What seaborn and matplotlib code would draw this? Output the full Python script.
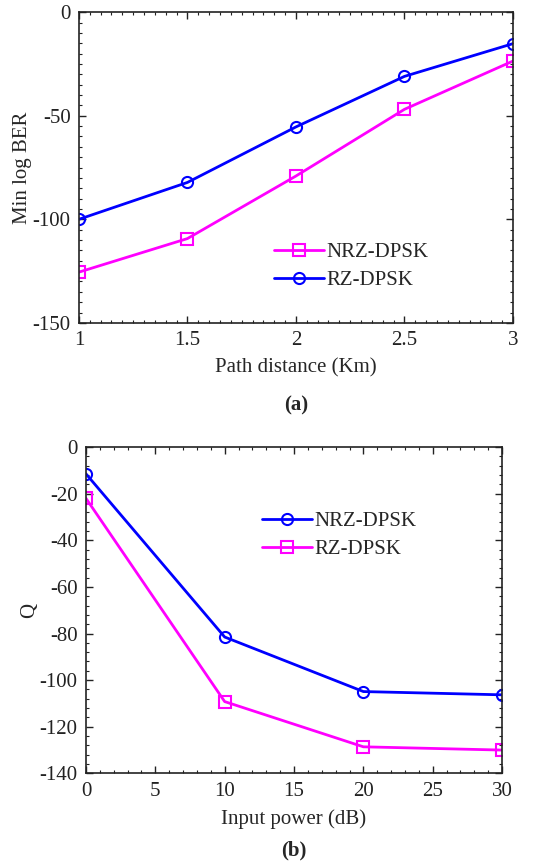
import numpy as np
import pandas as pd
import matplotlib
matplotlib.use("Agg")
import matplotlib.pyplot as plt
import seaborn as sns
from matplotlib.ticker import MultipleLocator

# values
path_km = [1, 1.5, 2, 2.5, 3]
nrz_ber = [-125.5, -109.3, -79.1, -46.9, -23.6]
rz_ber = [-100, -82.2, -55.4, -31, -15.2]

power_db = [0, 10, 20, 30]
nrz_q = [-11.5, -81.5, -104.9, -106.3]
rz_q = [-22, -109.2, -128.6, -130]

sns.set_theme(style="ticks")
plt.rcParams['font.family'] = ['Liberation Serif', 'DejaVu Serif']
plt.rcParams['axes.unicode_minus'] = False

MAGENTA = '#ff00ff'
BLUE = '#0000ff'
FS = 15

fig = plt.figure(figsize=(5.44, 8.68), dpi=100)
ax1 = fig.add_axes([0.145, 0.628, 0.798, 0.358])
ax2 = fig.add_axes([0.158, 0.109, 0.765, 0.376])

# panel (a)
df_a = pd.DataFrame({'x': path_km * 2,
                     'y': nrz_ber + rz_ber,
                     'series': ['NRZ-DPSK'] * 5 + ['RZ-DPSK'] * 5})
sns.lineplot(data=df_a, x='x', y='y', hue='series', style='series',
             palette={'NRZ-DPSK': MAGENTA, 'RZ-DPSK': BLUE},
             markers={'NRZ-DPSK': 's', 'RZ-DPSK': 'o'}, dashes=False,
             markersize=8, linewidth=2, ax=ax1)
ax1.set_xlim(1, 3)
ax1.set_ylim(-150, 0)
ax1.set_xticks([1, 1.5, 2, 2.5, 3])
ax1.set_xticklabels(['1', '1.5', '2', '2.5', '3'])
ax1.set_yticks([-150, -100, -50, 0])
ax1.xaxis.set_minor_locator(MultipleLocator(0.05))
ax1.yaxis.set_minor_locator(MultipleLocator(5))
ax1.set_xlabel('Path distance (Km)', fontsize=FS)
ax1.set_ylabel('Min log BER', fontsize=FS, labelpad=0)

# panel (b)
df_b = pd.DataFrame({'x': power_db * 2,
                     'y': nrz_q + rz_q,
                     'series': ['NRZ-DPSK'] * 4 + ['RZ-DPSK'] * 4})
sns.lineplot(data=df_b, x='x', y='y', hue='series', style='series',
             palette={'NRZ-DPSK': BLUE, 'RZ-DPSK': MAGENTA},
             markers={'NRZ-DPSK': 'o', 'RZ-DPSK': 's'}, dashes=False,
             markersize=8, linewidth=2, ax=ax2)
ax2.set_xlim(0, 30)
ax2.set_ylim(-140, 0)
ax2.set_xticks(range(0, 31, 5))
ax2.set_yticks(range(-140, 1, 20))
ax2.xaxis.set_minor_locator(MultipleLocator(1))
ax2.yaxis.set_minor_locator(MultipleLocator(4))
ax2.set_xlabel('Input power (dB)', fontsize=FS)
ax2.set_ylabel('Q', fontsize=FS, labelpad=0)

legends = [
    ax1.legend(loc='upper left', bbox_to_anchor=(0.43, 0.285), frameon=False,
               fontsize=FS, handlelength=2.4, handletextpad=0.1,
               labelspacing=0.4, borderaxespad=0),
    ax2.legend(loc='upper left', bbox_to_anchor=(0.403, 0.828), frameon=False,
               fontsize=FS, handlelength=2.4, handletextpad=0.1,
               labelspacing=0.4, borderaxespad=0),
]

# hollow markers in the line colour
for ax, leg in zip((ax1, ax2), legends):
    for ln in list(ax.lines) + list(leg.get_lines()):
        ln.set_markerfacecolor('none')
        ln.set_markeredgecolor(ln.get_color())
        ln.set_markeredgewidth(1.5)
    for s in ax.spines.values():
        s.set_visible(True)
        s.set_linewidth(1.2)
        s.set_color('#222222')
    ax.tick_params(which='both', direction='in', top=True, right=True,
                   labelsize=FS, colors='#222222')
    ax.tick_params(which='major', length=5, width=1, pad=6)
    ax.tick_params(which='minor', length=2.5, width=0.8)
    ax.xaxis.labelpad = 6

fig.text(0.5 * (0.145 + 0.943), 1 - 405 / 868, '(a)', ha='center',
         va='center', fontsize=FS, fontweight='bold')
fig.text(0.5 * (0.158 + 0.923), 1 - 850 / 868, '(b)', ha='center',
         va='center', fontsize=FS, fontweight='bold')

fig.savefig('out.png', dpi=100)
